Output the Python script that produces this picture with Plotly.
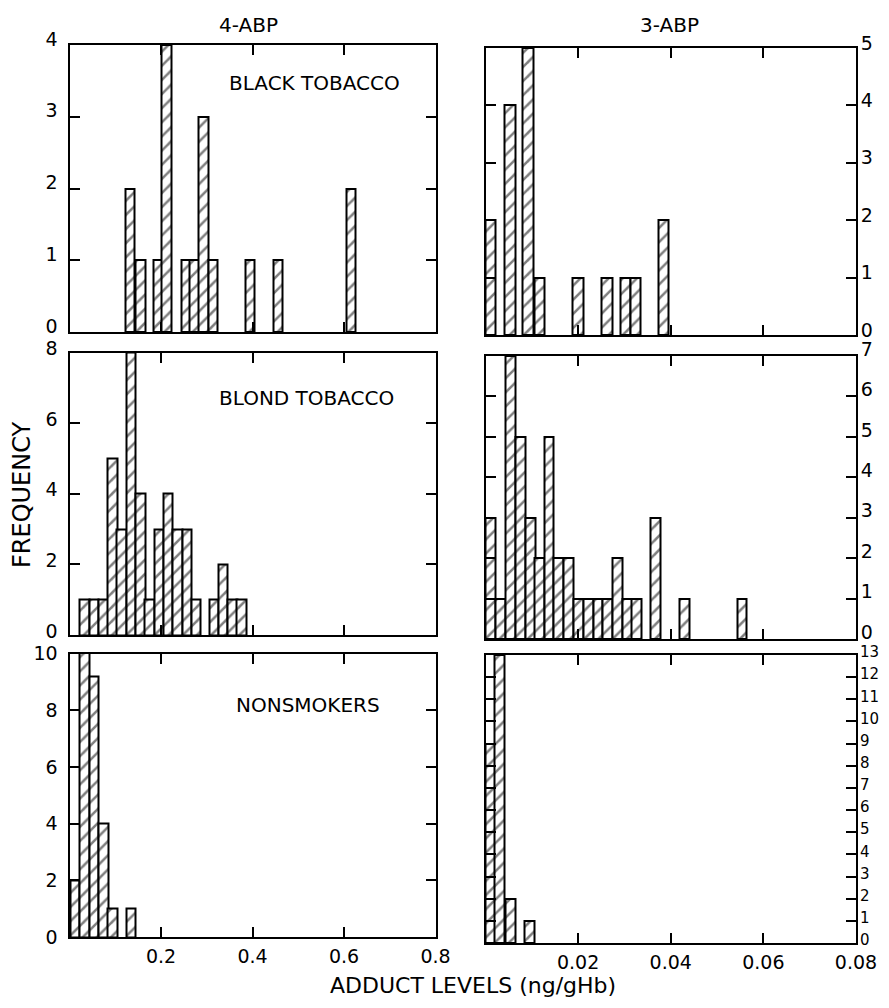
import plotly.graph_objects as go

# ---------------- data (bin centres, frequencies) ----------------
black_4abp_x = [0.132, 0.155, 0.193, 0.212, 0.254, 0.273, 0.293, 0.314, 0.394, 0.456, 0.615]
black_4abp_y = [2, 1, 1, 4, 1, 1, 3, 1, 1, 1, 2]

blond_4abp_x = [0.0325, 0.054, 0.074, 0.094, 0.114, 0.134, 0.155, 0.175, 0.195, 0.215,
                0.236, 0.257, 0.277, 0.316, 0.336, 0.356, 0.376]
blond_4abp_y = [1, 1, 1, 5, 3, 8, 4, 1, 3, 4, 3, 3, 1, 1, 2, 1, 1]

non_4abp_x = [0.0115, 0.033, 0.054, 0.074, 0.094, 0.135]
non_4abp_y = [2, 10.5, 9.2, 4, 1, 1]

black_3abp_x = [0.00114, 0.00528, 0.00922, 0.0117, 0.0200, 0.0262, 0.0302, 0.0324, 0.0384]
black_3abp_y = [2, 4, 5, 1, 1, 1, 1, 1, 2]

blond_3abp_x = [0.00114, 0.0033, 0.0054, 0.0075, 0.0097, 0.0117, 0.0137, 0.0158, 0.0179, 0.0200,
                0.0222, 0.0243, 0.0264, 0.0285, 0.0306, 0.0326, 0.0367, 0.0429, 0.0554]
blond_3abp_y = [3, 1, 7, 5, 3, 2, 5, 2, 2, 1, 1, 1, 1, 2, 1, 1, 3, 1, 1]

non_3abp_x = [0.0010, 0.0031, 0.0053, 0.0095]
non_3abp_y = [9, 13, 2, 1]

left_ticks = [0.2, 0.4, 0.6, 0.8]
left_ticktext = ["0.2", "0.4", "0.6", "0.8"]
right_ticks = [0.02, 0.04, 0.06, 0.08]
right_ticktext = ["0.02", "0.04", "0.06", "0.08"]

column_titles = ["4-ABP", "3-ABP"]
group_labels = ["BLACK TOBACCO", "BLOND TOBACCO", "NONSMOKERS"]
y_title = "FREQUENCY"
x_title = "ADDUCT LEVELS (ng/gHb)"

# ---------------- layout geometry ----------------
# the page body has an 8px margin on every side, so the figure is drawn 16px
# smaller than the window and window positions are measured from that offset
OFF = 8
W, H = 889 - 2 * OFF, 1008 - 2 * OFF
FONT = "DejaVu Sans"

def px_x(a, b):
    return [(a - OFF) / W, (b - OFF) / W]

def px_y(top, bottom):
    return [1 - (bottom - OFF) / H, 1 - (top - OFF) / H]

def pos(x, y):
    return (x - OFF) / W, 1 - (y - OFF) / H

panels = [
    # (x, y, xdomain, ydomain, xrange, yrange, ytickvals, side, show_xlabels, width, labelshift, labelsize)
    (black_4abp_x, black_4abp_y, px_x(69.5, 435.5), px_y(45, 332), [0, 0.8], [0, 4], list(range(0, 5)), "left", False, 0.0205, -6, 19),
    (black_3abp_x, black_3abp_y, px_x(485.5, 856), px_y(48, 335), [0, 0.08], [0, 5], list(range(0, 6)), "right", False, 0.00225, -5, 19),
    (blond_4abp_x, blond_4abp_y, px_x(69.5, 435.5), px_y(352.5, 635), [0, 0.8], [0, 8], list(range(0, 9, 2)), "left", False, 0.0205, -4, 19),
    (blond_3abp_x, blond_3abp_y, px_x(485.5, 856), px_y(356, 639), [0, 0.08], [0, 7], list(range(0, 8)), "right", False, 0.00212, -7, 19),
    (non_4abp_x, non_4abp_y, px_x(69.5, 435.5), px_y(653.5, 937), [0, 0.8], [0, 10], list(range(0, 11, 2)), "left", True, 0.0205, 0, 19),
    (non_3abp_x, non_3abp_y, px_x(485.5, 856), px_y(655, 943), [0, 0.08], [0, 13], list(range(0, 14)), "right", True, 0.00215, -3, 15),
]

fig = go.Figure()
layout = {}
for i, (xs, ys, xd, yd, xr, yr, ytv, side, showx, bw, lshift, lsize) in enumerate(panels, start=1):
    xa = "x" if i == 1 else f"x{i}"
    ya = "y" if i == 1 else f"y{i}"
    fig.add_trace(go.Bar(
        x=xs, y=ys, width=bw, xaxis=xa, yaxis=ya, showlegend=False,
        marker=dict(color="white",
                    line=dict(color="black", width=2),
                    pattern=dict(shape="/", fgcolor="black", bgcolor="white",
                                 size=10, solidity=0.25)),
        hoverinfo="x+y",
    ))
    left_col = side == "left"
    layout["xaxis" if i == 1 else f"xaxis{i}"] = dict(
        domain=xd, range=xr, anchor=ya, automargin=False,
        tickvals=left_ticks if left_col else right_ticks,
        ticktext=left_ticktext if left_col else right_ticktext,
        showticklabels=showx, ticks="inside", ticklen=10, tickwidth=2,
        tickcolor="black", showline=True, linecolor="black", linewidth=2,
        mirror="ticks", showgrid=False, zeroline=False,
        tickfont=dict(family=FONT, size=19, color="black"),
        ticklabelstandoff=1,
    )
    layout["yaxis" if i == 1 else f"yaxis{i}"] = dict(
        domain=yd, range=yr, anchor=xa, side=side, automargin=False,
        tickvals=ytv, ticktext=[str(v) for v in ytv],
        ticks="inside", ticklen=10, tickwidth=2, tickcolor="black",
        showline=True, linecolor="black", linewidth=2, mirror="ticks",
        showgrid=False, zeroline=False,
        tickfont=dict(family=FONT, size=lsize, color="black"),
        ticklabelstandoff=6 if left_col else -1, ticklabelshift=lshift,
    )

annotations = [
    dict(text=column_titles[0], xy=pos(248, 25)),
    dict(text=column_titles[1], xy=pos(669, 25)),
    dict(text=group_labels[0], xy=pos(314, 83)),
    dict(text=group_labels[1], xy=pos(306, 398)),
    dict(text=group_labels[2], xy=pos(308, 705)),
    dict(text=y_title, xy=pos(22, 495), textangle=-90, font=dict(family=FONT, size=24, color="black")),
    dict(text=x_title, xy=pos(473, 985), font=dict(family=FONT, size=22, color="black")),
]
for a in annotations:
    a["x"], a["y"] = a.pop("xy")
    a.setdefault("font", dict(family=FONT, size=20, color="black"))
    a.update(xref="paper", yref="paper", showarrow=False, xanchor="center", yanchor="middle")

fig.update_layout(
    width=W, height=H, margin=dict(l=0, r=0, t=0, b=0, autoexpand=False),
    paper_bgcolor="white", plot_bgcolor="white",
    bargap=0, annotations=annotations, **layout,
)

fig.write_html("out.html")
